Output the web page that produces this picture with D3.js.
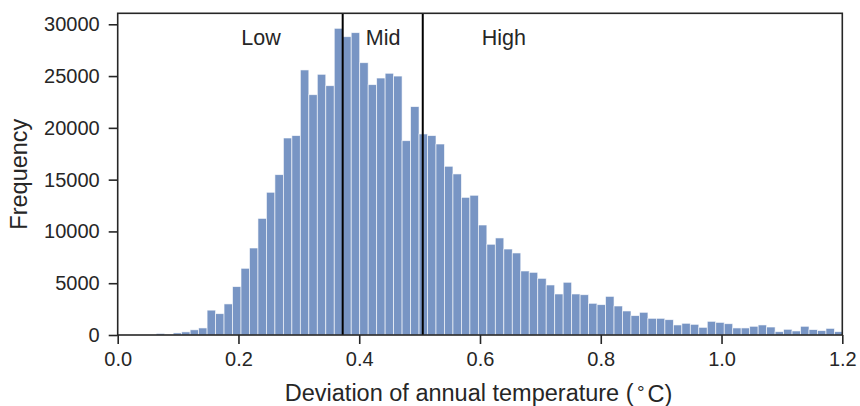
<!DOCTYPE html>
<html>
<head>
<meta charset="utf-8">
<script src="https://cdn.jsdelivr.net/npm/d3@7/dist/d3.min.js"></script>
<style>
  html, body { margin: 0; padding: 0; background: #ffffff; }
  svg { display: block; }
  text { font-family: "Liberation Sans", Arial, Helvetica, sans-serif; fill: #262626; }
</style>
</head>
<body>
<svg id="chart" width="860" height="406"></svg>
<script>
// ---- data ----
const binStart = 0.0638;      // left edge of first bin
const binWidth = 0.01404;     // histogram bin width
const frequencies = [
  150, 50, 200, 300, 500, 680, 2400, 2060, 3000, 4670,
  6440, 8400, 11260, 13780, 15480, 19020, 19250, 25590, 23200, 25170,
  24070, 29610, 28800, 29190, 26290, 24170, 24810, 25270, 25000, 18760,
  22050, 19410, 19250, 18440, 16290, 15550, 13290, 13490, 10620, 8760,
  9370, 8300, 7920, 6180, 6050, 5470, 4830, 3960, 5090, 3960,
  3890, 3060, 2930, 3730, 2800, 2320, 1870, 2190, 1610, 1610,
  1480, 970, 1130, 1030, 740, 1320, 1220, 1090, 680, 680,
  840, 970, 770, 320, 550, 390, 840, 520, 420, 640,
  320
];
const thresholds = [0.3726, 0.5052];
const groupLabels = ["Low", "Mid", "High"];
const groupLabelX = [0.2375, 0.4395, 0.6395];
const groupLabelY = 28000;
const xTicks = [0.0, 0.2, 0.4, 0.6, 0.8, 1.0, 1.2];
const yTicks = [0, 5000, 10000, 15000, 20000, 25000, 30000];
const xDomain = [0, 1.2];
const yDomain = [0, 31060];
const xLabelMain = "Deviation of annual temperature (";
const xLabelUnit = ["\u00B0", "C)"];
const yLabel = "Frequency";

// ---- layout ----
const svg = d3.select("#chart");
const margin = { left: 117.7, top: 13.3, right: 860 - 842.3, bottom: 406 - 335 };
const W = 860 - margin.left - margin.right;
const H = 406 - margin.top - margin.bottom;

const x = d3.scaleLinear().domain(xDomain).range([0, W]);
const y = d3.scaleLinear().domain(yDomain).range([H, 0]);

const g = svg.append("g").attr("transform", `translate(${margin.left},${margin.top})`);

g.append("clipPath").attr("id", "plotclip")
  .append("rect").attr("x", 0).attr("y", 0).attr("width", W).attr("height", H);

const bins = frequencies.map((v, i) => ({ x0: binStart + i * binWidth, x1: binStart + (i + 1) * binWidth, v }));

g.append("g").attr("clip-path", "url(#plotclip)")
  .selectAll("rect").data(bins).join("rect")
  .attr("x", d => x(d.x0))
  .attr("width", d => x(d.x1) - x(d.x0))
  .attr("y", d => y(d.v))
  .attr("height", d => H - y(d.v))
  .attr("fill", "#7895c4")
  .attr("stroke", "#ffffff")
  .attr("stroke-opacity", 0.75)
  .attr("stroke-width", 0.8);

// threshold lines
g.selectAll("line.thr").data(thresholds).join("line")
  .attr("class", "thr")
  .attr("x1", d => x(d)).attr("x2", d => x(d))
  .attr("y1", 0).attr("y2", H)
  .attr("stroke", "#000000").attr("stroke-width", 2);

// group labels
g.selectAll("text.grp").data(groupLabels).join("text")
  .attr("class", "grp")
  .attr("x", (d, i) => x(groupLabelX[i]))
  .attr("y", y(groupLabelY))
  .attr("text-anchor", "middle")
  .attr("font-size", "21.5px")
  .text(d => d);

// axes
const xAxis = d3.axisBottom(x).tickValues(xTicks).tickFormat(d3.format(".1f")).tickSizeOuter(0).tickSize(9).tickPadding(8);
const yAxis = d3.axisLeft(y).tickValues(yTicks).tickFormat(d3.format("d")).tickSizeOuter(0).tickSize(9).tickPadding(9);

const gx = g.append("g").attr("transform", `translate(0,${H})`).call(xAxis);
const gy = g.append("g").call(yAxis);
[gx, gy].forEach(a => {
  a.select(".domain").remove();
  a.selectAll(".tick line").attr("stroke", "#262626").attr("stroke-width", 1.6);
  a.selectAll(".tick text").attr("font-size", "20px").attr("fill", "#262626")
    .style("font-family", "'Liberation Sans', Arial, sans-serif");
});

// frame (spines)
g.append("rect").attr("x", 0).attr("y", 0).attr("width", W).attr("height", H)
  .attr("fill", "none").attr("stroke", "#262626").attr("stroke-width", 1.6);

// axis labels
const xl = svg.append("text")
  .attr("x", 478.5).attr("y", 401)
  .attr("text-anchor", "middle").attr("font-size", "23.5px");
xl.append("tspan").text(xLabelMain);
xl.append("tspan").attr("dx", "0.18em").attr("dy", "-0.12em").attr("font-size", "19px").text(xLabelUnit[0]);
xl.append("tspan").attr("dx", "0.12em").attr("dy", "0.12em").text(xLabelUnit[1]);

svg.append("text")
  .attr("transform", `translate(27,${margin.top + H / 2}) rotate(-90)`)
  .attr("text-anchor", "middle").attr("font-size", "23.5px")
  .text(yLabel);
</script>
</body>
</html>
